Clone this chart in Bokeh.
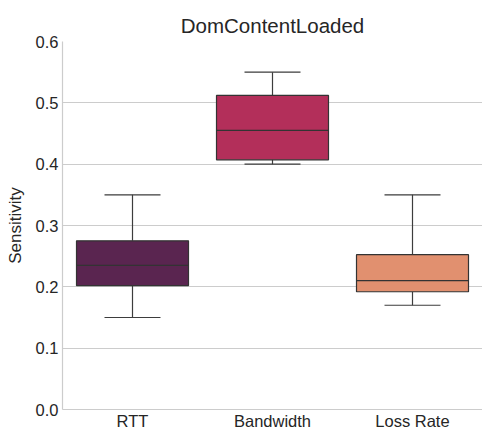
from bokeh.plotting import figure
from bokeh.models import ColumnDataSource, FactorRange, Range1d, FixedTicker, NumeralTickFormatter
from bokeh.embed import file_html
from bokeh.resources import INLINE

categories = ["RTT", "Bandwidth", "Loss Rate"]
lower = [0.15, 0.40, 0.17]
q1 = [0.202, 0.407, 0.192]
median = [0.235, 0.455, 0.21]
q3 = [0.275, 0.512, 0.2525]
upper = [0.35, 0.55, 0.35]
colors = ["#5a2550", "#b32f5a", "#e1906f"]
yticks = [0.0, 0.1, 0.2, 0.3, 0.4, 0.5, 0.6]

src = ColumnDataSource(dict(cat=categories, lower=lower, q1=q1, median=median,
                            q3=q3, upper=upper, color=colors))

FONT = "Liberation Sans"
p = figure(x_range=FactorRange(*categories, range_padding=0), y_range=Range1d(0, 0.6),
           frame_width=420, frame_height=368, output_backend="svg", toolbar_location=None,
           title="DomContentLoaded", min_border_left=62, min_border_right=0,
           min_border_top=41, min_border_bottom=21)
p.outline_line_color = None
p.background_fill_color = "white"

# whiskers
p.segment(x0="cat", x1="cat", y0="q3", y1="upper", source=src, line_color="#3d3d3d", line_width=1.2)
p.segment(x0="cat", x1="cat", y0="lower", y1="q1", source=src, line_color="#3d3d3d", line_width=1.2)
# caps
p.vbar(x="cat", width=0.4, top="upper", bottom="upper", source=src, fill_color=None,
       line_color="#3d3d3d", line_width=1.2)
p.vbar(x="cat", width=0.4, top="lower", bottom="lower", source=src, fill_color=None,
       line_color="#3d3d3d", line_width=1.2)
# boxes
p.vbar(x="cat", width=0.8, top="q3", bottom="q1", source=src, fill_color="color",
       line_color="#333333", line_width=1.2)
# medians
p.vbar(x="cat", width=0.8, top="median", bottom="median", source=src, fill_color=None,
       line_color="#333333", line_width=1.2)

p.title.align = "center"
p.title.text_font = FONT
p.title.text_font_size = "20.5px"
p.title.text_font_style = "normal"
p.title.text_color = "#262626"

p.xgrid.grid_line_color = None
p.ygrid.grid_line_color = "#cccccc"
p.ygrid.grid_line_width = 1
p.yaxis.ticker = FixedTicker(ticks=yticks)
p.yaxis.formatter = NumeralTickFormatter(format="0.0")
p.yaxis.axis_label = "Sensitivity"

for ax in (p.xaxis[0], p.yaxis[0]):
    ax.major_tick_line_color = None
    ax.minor_tick_line_color = None
    ax.major_tick_out = 0
    ax.major_tick_in = 0
    ax.axis_line_color = "#cccccc"
    ax.axis_line_width = 1.2
    ax.major_label_text_font = FONT
    ax.major_label_text_font_size = "16.5px"
    ax.major_label_text_color = "#262626"
    ax.major_label_standoff = 4
    ax.axis_label_text_font = FONT
    ax.axis_label_text_font_size = "17px"
    ax.axis_label_text_font_style = "normal"
    ax.axis_label_text_color = "#262626"
p.xaxis.major_label_standoff = 2
p.yaxis.axis_label_standoff = 8

open("out.html", "w").write(file_html(p, INLINE))
